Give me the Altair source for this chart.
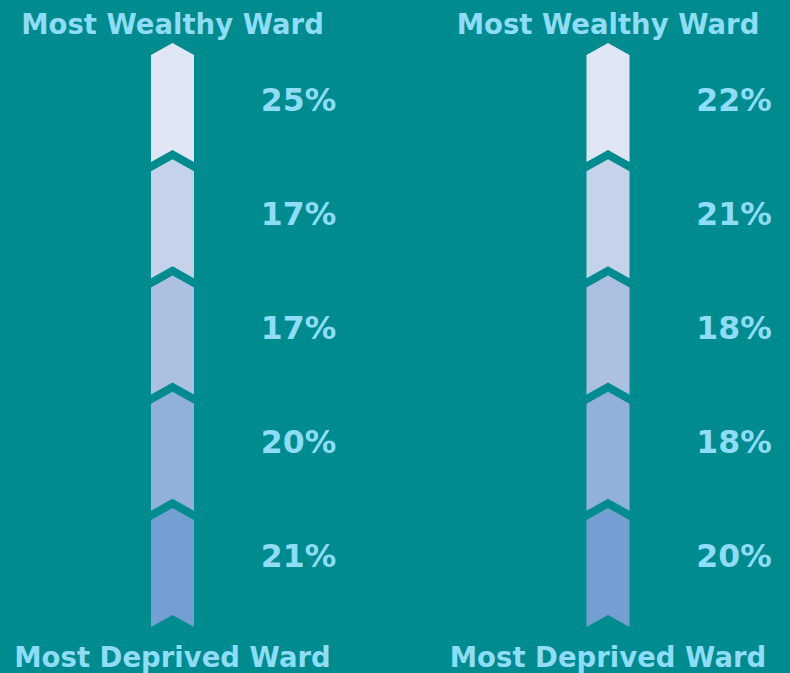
import altair as alt
import pandas as pd

# ---- data ----
groups = ["Panel 1", "Panel 2"]
quintiles = [1, 2, 3, 4, 5]          # 1 = most wealthy ward quintile, 5 = most deprived
left_values = [25, 17, 17, 20, 21]
right_values = [22, 21, 18, 18, 20]
top_title = "Most Wealthy Ward"
bottom_title = "Most Deprived Ward"

# ---- styles ----
BG = "#008B8E"
TXT = "#8EDCF5"
seg_colors = ["#E0E6F3", "#C4D3EA", "#AEC0E2", "#91B1DA", "#749FD3"]
FONT = "DejaVu Sans"

rows = []
for g, vals in zip(groups, [left_values, right_values]):
    for q, v in zip(quintiles, vals):
        rows.append({"group": g, "quintile": q, "value": v, "label": f"{v}%"})
df = pd.DataFrame(rows)
gdf = pd.DataFrame({"group": groups})

# chevron segment: box [-1,1] scaled by sqrt(size)/2
hw = 0.3613
d = 0.2017
chevron = (f"M{-hw},{-1 + d} L0,-1 L{hw},{-1 + d} L{hw},1 L0,{1 - d} L{-hw},1 Z")

xscale = alt.Scale(type="point", domain=groups, range=[172.5, 608], padding=0)

segments = alt.Chart(df).mark_point(
    shape=chevron, size=119 * 119, filled=True, opacity=1, strokeWidth=0
).encode(
    x=alt.X("group:N", scale=xscale, axis=None),
    y=alt.Y("quintile:O", scale=alt.Scale(type="point", domain=quintiles,
                                          range=[102.5, 567.5], padding=0), axis=None),
    color=alt.Color("quintile:O", scale=alt.Scale(domain=quintiles, range=seg_colors),
                    legend=None),
)

labels = alt.Chart(df).mark_text(
    font=FONT, fontWeight="bold", fontSize=31.5, color=TXT,
    align="center", baseline="alphabetic", dx=126
).encode(
    x=alt.X("group:N", scale=xscale, axis=None),
    y=alt.Y("quintile:O", scale=alt.Scale(type="point", domain=quintiles,
                                          range=[110.5, 567], padding=0), axis=None),
    text="label:N",
)

tops = alt.Chart(gdf).mark_text(
    font=FONT, fontWeight="bold", fontSize=27.5, color=TXT,
    align="center", baseline="alphabetic", text=top_title
).encode(
    x=alt.X("group:N", scale=xscale, axis=None),
    y=alt.value(33.5),
)

bottoms = alt.Chart(gdf).mark_text(
    font=FONT, fontWeight="bold", fontSize=27.5, color=TXT,
    align="center", baseline="alphabetic", text=bottom_title
).encode(
    x=alt.X("group:N", scale=xscale, axis=None),
    y=alt.value(667),
)

chart = alt.layer(segments, labels, tops, bottoms).resolve_scale(
    y="independent"
).properties(
    width=790, height=673,
    autosize=alt.AutoSizeParams(type="none"),
    padding=0,
    background=BG,
).configure_view(stroke=None)

chart.save("out.html", embed_options={"renderer": "svg", "actions": False})
